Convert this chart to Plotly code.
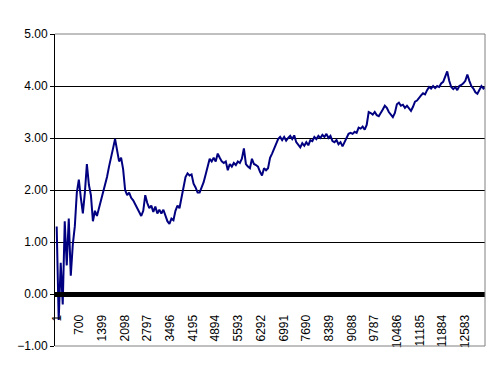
import plotly.graph_objects as go

sample_step = 62
series_values = [
    1.30, -0.50, 0.60, -0.20, 1.40, 0.55, 1.45, 0.35, 0.95, 1.30,
    1.95, 2.20, 1.85, 1.55, 1.95, 2.50, 2.10, 1.90, 1.40, 1.60,
    1.50, 1.65, 1.80, 1.90, 2.05, 2.25, 2.45, 2.60, 2.80, 2.98,
    2.75, 2.55, 2.62, 2.40, 2.00, 1.90, 1.95, 1.85, 1.80, 1.72,
    1.65, 1.55, 1.50, 1.60, 1.90, 1.75, 1.65, 1.70, 1.58, 1.68,
    1.55, 1.62, 1.55, 1.62, 1.50, 1.40, 1.35, 1.45, 1.42, 1.60,
    1.70, 1.65, 1.85, 2.05, 2.25, 2.32, 2.28, 2.30, 2.12, 2.05,
    1.95, 1.95, 2.05, 2.15, 2.30, 2.45, 2.60, 2.55, 2.62, 2.55,
    2.70, 2.62, 2.55, 2.52, 2.55, 2.38, 2.50, 2.45, 2.52, 2.48,
    2.55, 2.52, 2.60, 2.80, 2.50, 2.45, 2.42, 2.60, 2.50, 2.48,
    2.45, 2.35, 2.28, 2.42, 2.38, 2.42, 2.62, 2.70, 2.80, 2.88,
    2.98, 3.02, 2.96, 3.02, 2.95, 3.00, 3.04, 2.98, 3.05, 2.92,
    2.88, 2.82, 2.90, 2.85, 2.92, 2.86, 2.96, 2.94, 3.02, 2.98,
    3.04, 3.00, 3.06, 3.02, 3.08, 3.00, 3.04, 2.94, 2.92, 2.96,
    2.88, 2.92, 2.84, 2.92, 3.00, 3.08, 3.10, 3.08, 3.12, 3.10,
    3.20, 3.18, 3.22, 3.16, 3.25, 3.50, 3.48, 3.45, 3.50, 3.44,
    3.42, 3.50, 3.55, 3.62, 3.58, 3.50, 3.46, 3.40, 3.48, 3.65,
    3.68, 3.62, 3.64, 3.58, 3.62, 3.57, 3.52, 3.60, 3.70, 3.72,
    3.78, 3.82, 3.86, 3.84, 3.92, 3.98, 3.95, 4.00, 3.96, 4.00,
    3.98, 4.05, 4.08, 4.18, 4.28, 4.10, 3.98, 3.94, 3.98, 3.92,
    4.00, 4.02, 4.05, 4.10, 4.22, 4.10, 4.00, 3.95, 3.88, 3.85,
    3.92, 4.00, 3.95, 3.98, 3.92,
]
sample_index = [1 + sample_step * i for i in range(len(series_values))]

# Category tick labels
x_tick_values = [1, 700, 1399, 2098, 2797, 3496, 4195, 4894, 5593, 6292,
                 6991, 7690, 8389, 9088, 9787, 10486, 11185, 11884, 12583]
x_tick_labels = [str(v) for v in x_tick_values]
y_tick_values = [-1, 0, 1, 2, 3, 4, 5]

FONT = "Arial, Liberation Sans, sans-serif"

fig = go.Figure()
fig.add_trace(go.Scatter(
    x=sample_index, y=series_values, mode="lines",
    line=dict(color="#000080", width=2),
    showlegend=False, hoverinfo="skip",
))

# page body has an 8px default margin, so the figure is sized to fit the window
fig.update_layout(
    width=492, height=372,
    margin=dict(l=47, r=15, t=26, b=34, autoexpand=False),
    paper_bgcolor="white", plot_bgcolor="white",
    font=dict(family=FONT, size=12, color="black"),
    showlegend=False,
    xaxis=dict(
        range=[-51, 13193],
        anchor="free", position=1 / 6,
        showline=True, linecolor="black", linewidth=5,
        showgrid=False, zeroline=False,
        tickmode="array", tickvals=x_tick_values, ticktext=x_tick_labels,
        tickangle=-90, ticks="outside", ticklen=13, tickcolor="rgba(0,0,0,0)",
        ticklabeloverflow="allow",
        tickfont=dict(family=FONT, size=12, color="black"),
        automargin=False,
    ),
    yaxis=dict(
        range=[-1, 5],
        tickmode="array", tickvals=y_tick_values,
        tickformat=".2f",
        showline=True, linecolor="black", linewidth=1,
        showgrid=True, gridcolor="black", gridwidth=1,
        zeroline=False,
        ticks="outside", ticklen=4, tickcolor="black",
        tickfont=dict(family=FONT, size=12, color="black"),
        automargin=False,
    ),
    shapes=[
        dict(type="line", xref="paper", yref="paper", x0=0, x1=1, y0=1, y1=1,
             line=dict(color="#808080", width=1), layer="above"),
        dict(type="line", xref="paper", yref="paper", x0=1, x1=1, y0=0, y1=1,
             line=dict(color="#808080", width=1), layer="above"),
        dict(type="line", xref="paper", yref="paper", x0=0, x1=1, y0=0, y1=0,
             line=dict(color="#808080", width=1), layer="above"),
    ],
)

fig.write_html("out.html")
